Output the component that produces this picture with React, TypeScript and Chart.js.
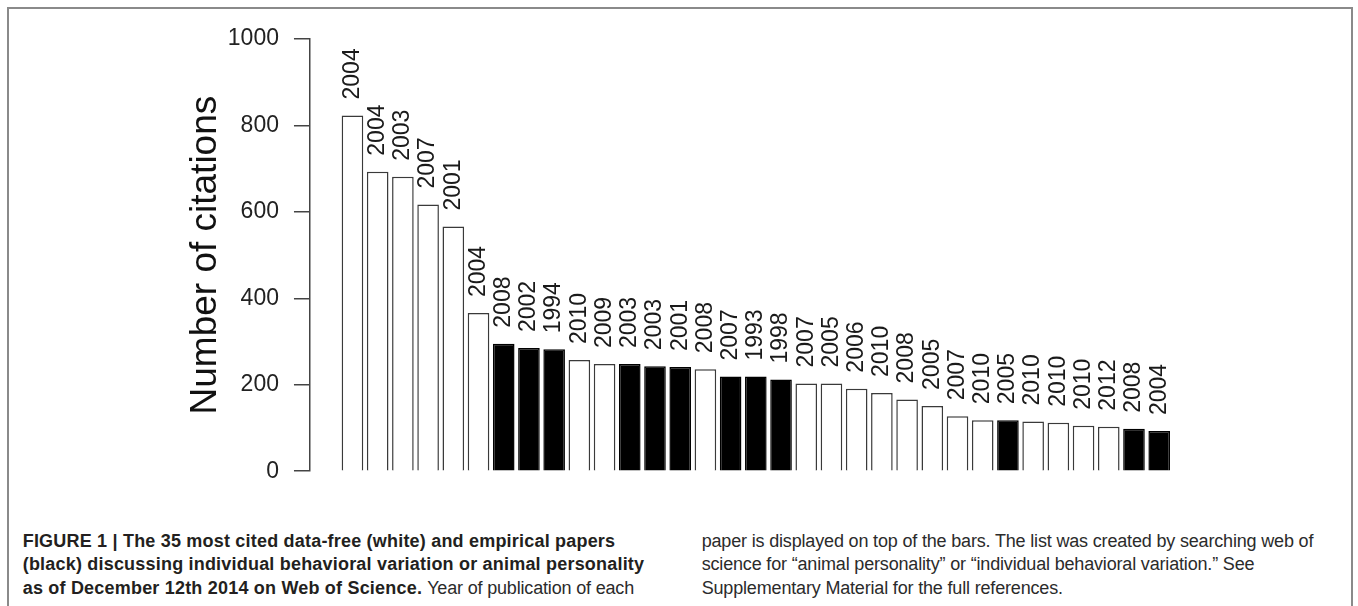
import React, { useEffect, useRef } from "react";
import { Chart, registerables } from "chart.js";

Chart.register(...registerables);

// Year of publication (label above each bar)
const years = [
  "2004", "2004", "2003", "2007", "2001", "2004", "2008", "2002", "1994", "2010", "2009",
  "2003", "2003", "2001", "2008", "2007", "1993", "1998", "2007", "2005", "2006", "2010",
  "2008", "2005", "2007", "2010", "2005", "2010", "2010", "2010", "2012", "2008", "2004",
];
// Number of citations per paper
const citations = [
  823, 693, 681, 617, 566, 366, 295, 285, 282, 257, 248,
  248, 243, 241, 236, 219, 219, 212, 203, 203, 191, 181,
  166, 151, 127, 118, 118, 115, 112, 105, 103, 98, 93,
];
// D = data-free (white), E = empirical (black)
const paperType = [
  "D", "D", "D", "D", "D", "D", "E", "E", "E", "D", "D",
  "E", "E", "E", "D", "E", "E", "E", "D", "D", "D", "D",
  "D", "D", "D", "D", "E", "D", "D", "D", "D", "E", "E",
];
const yTicks = [0, 200, 400, 600, 800, 1000];
const yTitle = "Number of citations";

const FONT = '"Liberation Sans", Arial, Helvetica, sans-serif';

const yearLabelPlugin = {
  id: "yearLabels",
  afterDatasetsDraw(chart: any) {
    const ctx = chart.ctx;
    const meta = chart.getDatasetMeta(0);
    ctx.save();
    ctx.font = `23px ${FONT}`;
    ctx.fillStyle = "#1a1a1a";
    ctx.textAlign = "left";
    ctx.textBaseline = "middle";
    meta.data.forEach((el: any, i: number) => {
      ctx.save();
      ctx.translate(el.x, el.y - 16);
      ctx.rotate(-Math.PI / 2);
      ctx.fillText(years[i], 0, 0);
      ctx.restore();
    });
    ctx.restore();
  },
};

function BarChart() {
  const ref = useRef<HTMLCanvasElement | null>(null);
  useEffect(() => {
    if (!ref.current) return;
    const data = citations.map((v, i) => ({ x: i, y: v }));
    const chart = new Chart(ref.current, {
      type: "bar",
      data: {
        datasets: [
          {
            data,
            backgroundColor: paperType.map((t) => (t === "E" ? "#000000" : "#ffffff")),
            borderColor: paperType.map((t) => (t === "E" ? "#000000" : "#3a3a3a")),
            borderWidth: 1.5,
            barPercentage: 0.857,
            categoryPercentage: 1,
          },
        ],
      },
      options: {
        animation: false,
        responsive: false,
        maintainAspectRatio: false,
        events: [],
        layout: { padding: { left: 200.45, right: 173.6, top: 39, bottom: 22 } },
        plugins: { legend: { display: false }, tooltip: { enabled: false }, title: { display: false } },
        scales: {
          x: {
            type: "linear",
            min: -1.686,
            max: 33,
            bounds: "data",
            offset: false,
            grace: 0,
            display: false,
          },
          y: {
            type: "linear",
            min: 0,
            max: 1000,
            afterBuildTicks: (scale: any) => {
              scale.ticks = yTicks.map((v) => ({ value: v }));
            },
            ticks: {
              font: { family: FONT, size: 23 },
              color: "#222",
              padding: 15,
              callback: (v: any) => String(v),
            },
            grid: {
              drawOnChartArea: false,
              drawTicks: true,
              tickLength: 16,
              color: "#444",
              lineWidth: 1.5,
            },
            border: { display: true, color: "#444", width: 1.5 },
            title: {
              display: true,
              text: yTitle,
              color: "#111",
              font: { family: FONT, size: 37, lineHeight: 0.3 },
              padding: { top: 0, bottom: 1.25 },
            },
          },
        },
      },
      plugins: [yearLabelPlugin],
    });
    return () => chart.destroy();
  }, []);
  return (
    <div style={{ position: "absolute", left: 0, top: 0, width: 1358, height: 500 }}>
      <canvas ref={ref} width={1358} height={500} style={{ width: 1358, height: 500, display: "block" }} />
    </div>
  );
}

const capBase: React.CSSProperties = {
  position: "absolute",
  fontFamily: FONT,
  fontSize: 18,
  lineHeight: "23.5px",
  whiteSpace: "nowrap",
  color: "#2b2b2b",
};
const boldStyle: React.CSSProperties = { fontWeight: "bold", color: "#231f20", letterSpacing: "0.2px" };
const regStyle: React.CSSProperties = { letterSpacing: "-0.17px" };

export default function App() {
  return (
    <div style={{ position: "absolute", left: 0, top: 0, width: 1358, height: 606, overflow: "hidden" }}>
      <div
        style={{
          position: "absolute",
          left: 7,
          top: 7,
          width: 1346,
          height: 640,
          border: "2px solid #8a8a8a",
          boxSizing: "border-box",
          background: "#fff",
        }}
      />
      <BarChart />
      <div style={{ ...capBase, left: 22.7, top: 529.5 }}>
        <div style={boldStyle}>FIGURE 1 | The 35 most cited data-free (white) and empirical papers</div>
        <div style={boldStyle}>(black) discussing individual behavioral variation or animal personality</div>
        <div>
          <span style={boldStyle}>as of December 12th 2014 on Web of Science.</span>{" "}
          <span style={regStyle}>Year of publication of each</span>
        </div>
      </div>
      <div style={{ ...capBase, ...regStyle, left: 701.7, top: 529.5 }}>
        <div>paper is displayed on top of the bars. The list was created by searching web of</div>
        <div>science for “animal personality” or “individual behavioral variation.” See</div>
        <div>Supplementary Material for the full references.</div>
      </div>
    </div>
  );
}
